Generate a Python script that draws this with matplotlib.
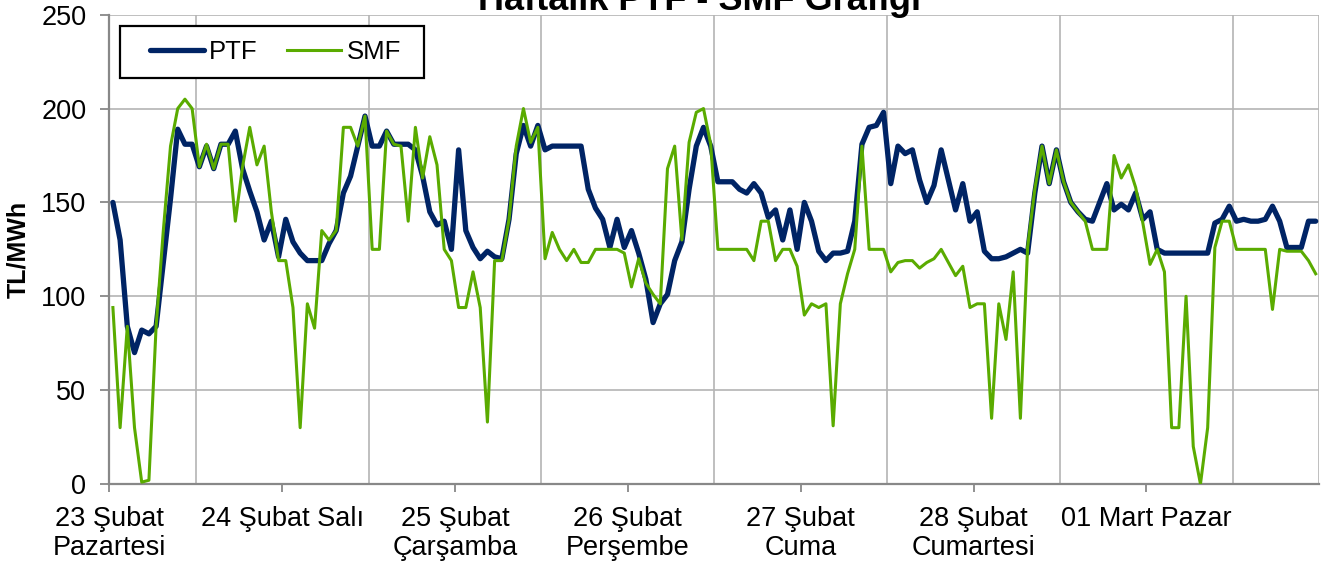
import numpy as np
import matplotlib
matplotlib.use("Agg")
import matplotlib.pyplot as plt
from matplotlib.patches import Rectangle

plt.rcParams['font.family'] = ['Liberation Sans', 'DejaVu Sans']

title = "Haftalık PTF - SMF Grafiği"
y_label = "TL/MWh"
series_names = ["PTF", "SMF"]
day_labels = ["23 Şubat\nPazartesi", "24 Şubat Salı", "25 Şubat\nÇarşamba",
              "26 Şubat\nPerşembe", "27 Şubat\nCuma", "28 Şubat\nCumartesi",
              "01 Mart Pazar"]

ptf = [
    150, 130, 84, 70, 82, 80, 84, 118, 152, 189, 181, 181,
    169, 180, 168, 181, 181, 188, 168, 156, 145, 130, 140, 121,
    141, 129, 123, 119, 119, 119, 128, 135, 155, 164, 180, 196,
    180, 180, 188, 181, 181, 181, 178, 164, 145, 138, 140, 125,
    178, 135, 126, 120, 124, 121, 120, 141, 176, 191, 180, 191,
    178, 180, 180, 180, 180, 180, 157, 147, 141, 126, 141, 126,
    135, 123, 109, 86, 96, 101, 119, 129, 157, 180, 190, 180,
    161, 161, 161, 157, 155, 160, 155, 142, 146, 130, 146, 125,
    150, 140, 124, 119, 123, 123, 124, 140, 181, 190, 191, 198,
    160, 180, 176, 178, 162, 150, 159, 178, 162, 146, 160, 140,
    145, 124, 120, 120, 121, 123, 125, 123, 155, 180, 160, 178,
    161, 150, 145, 141, 140, 150, 160, 146, 149, 146, 155, 141,
    145, 125, 123, 123, 123, 123, 123, 123, 123, 139, 141, 148,
    140, 141, 140, 140, 141, 148, 140, 126, 126, 126, 140, 140,
]

smf = [
    94, 30, 84, 30, 1, 2, 84, 135, 180, 200, 205, 200,
    169, 181, 168, 181, 181, 140, 169, 190, 170, 180, 145, 119,
    119, 94, 30, 96, 83, 135, 130, 135, 190, 190, 180, 196,
    125, 125, 188, 181, 180, 140, 190, 163, 185, 170, 125, 119,
    94, 94, 113, 94, 33, 119, 119, 141, 180, 200, 182, 190,
    120, 134, 125, 119, 125, 118, 118, 125, 125, 125, 125, 123,
    105, 120, 107, 101, 96, 168, 180, 130, 182, 198, 200, 181,
    125, 125, 125, 125, 125, 119, 140, 140, 119, 125, 125, 116,
    90, 96, 94, 96, 31, 96, 112, 125, 180, 125, 125, 125,
    113, 118, 119, 119, 115, 118, 120, 125, 118, 111, 116, 94,
    96, 96, 35, 96, 77, 113, 35, 126, 157, 180, 160, 178,
    161, 150, 145, 140, 125, 125, 125, 175, 163, 170, 158, 139,
    117, 125, 113, 30, 30, 100, 20, 0, 30, 126, 140, 140,
    125, 125, 125, 125, 125, 93, 125, 124, 124, 124, 119, 112,
]

W, H = 1325, 566
fig = plt.figure(figsize=(W / 100, H / 100), dpi=100)
ax = fig.add_axes([109.3 / W, (H - 484) / H, 1210 / W, 469.3 / H])

n = len(ptf)
hours = np.arange(n) + 0.5

navy = '#002465'
green = '#5AAB00'
l1, = ax.plot(hours, ptf, color=navy, lw=3.8, solid_joinstyle='round',
              solid_capstyle='round', label=series_names[0], zorder=3)
l2, = ax.plot(hours, smf, color=green, lw=2.2, solid_joinstyle='round',
              label=series_names[1], zorder=4)

ax.set_xlim(0, n)
ax.set_ylim(0, 250)
ax.set_yticks(np.arange(0, 251, 50))
ax.set_xticks(np.arange(0, n, 24))
ax.set_xticklabels(day_labels, multialignment='center', linespacing=1.15)
ax.set_xticks(np.arange(0, n + 1, 12), minor=True)

gridc = '#B4B4B4'
ax.grid(which='minor', axis='x', color=gridc, lw=1.2)
ax.grid(which='major', axis='y', color=gridc, lw=1.2)
ax.grid(which='major', axis='x', visible=False)
ax.set_axisbelow(True)

axc = '#888888'
for s in ['top', 'right']:
    ax.spines[s].set_visible(False)
for s in ['left', 'bottom']:
    ax.spines[s].set_color(axc)
    ax.spines[s].set_linewidth(1.6)
    ax.spines[s].set_zorder(2.5)

ax.tick_params(axis='y', which='major', length=6.5, width=1.3, color=axc,
               pad=10, labelsize=19.5)
ax.tick_params(axis='x', which='major', length=5.5, width=1.3, color=axc,
               pad=10, labelsize=19.5)
ax.tick_params(axis='x', which='minor', length=0)

fig.text(18 / W, 1 - 249 / H, y_label, rotation=90, ha='center', va='center',
         fontsize=18, fontweight='bold')
fig.text(700 / W, 1 - 10 / H, title, ha='center', va='baseline',
         fontsize=26, fontweight='bold')

# legend frame
ax.add_patch(Rectangle((10.7 / 1210, (484 - 78) / 469.3), 304 / 1210, 52 / 469.3,
                       transform=ax.transAxes, facecolor='white', edgecolor='black',
                       lw=1.6, zorder=5, clip_on=False))
leg = ax.legend(handles=[l1, l2], loc='center left',
                bbox_to_anchor=((150 - 109.3) / 1210, (484 - 52) / 469.3),
                ncol=2, frameon=False, fontsize=18.5, handlelength=2.1,
                handletextpad=0.2, columnspacing=1.15, borderpad=0,
                borderaxespad=0)
leg.set_zorder(6)

fig.savefig('out.png', dpi=100)
